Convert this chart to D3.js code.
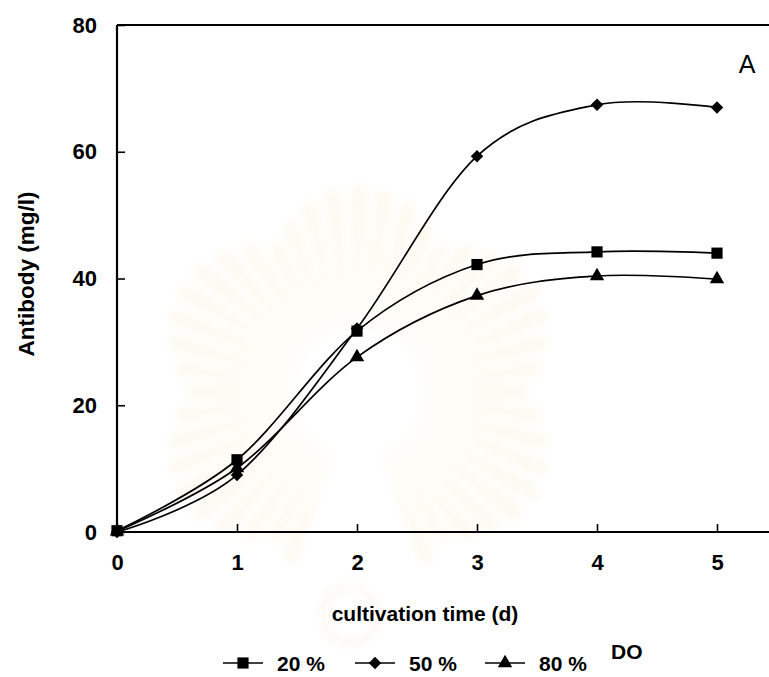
<!DOCTYPE html>
<html>
<head>
<meta charset="utf-8">
<script src="https://cdn.jsdelivr.net/npm/d3@7"></script>
<style>
  html, body { margin: 0; padding: 0; background: #fff; }
  svg { display: block; }
  text { font-family: "Liberation Sans", Arial, sans-serif; fill: #000; }
</style>
</head>
<body>
<svg id="chart" width="769" height="677"></svg>
<script>
// Antibody titre over cultivation time at three dissolved-oxygen levels
const days = [0, 1, 2, 3, 4, 5];
const do20 = [0.2, 11.4, 31.7, 42.2, 44.2, 44.0];
const do50 = [0.0, 9.0, 32.1, 59.3, 67.4, 67.0];
const do80 = [0.1, 10.1, 27.6, 37.3, 40.4, 39.9];
const seriesNames = ["20 %", "50 %", "80 %"];
const seriesMarkers = ["square", "diamond", "triangle"];
const xTicks = [0, 1, 2, 3, 4, 5];
const yTicks = [0, 20, 40, 60, 80];

const svg = d3.select("#chart");
const W = 769;
const FONT = "'Liberation Sans', Arial, sans-serif";
const x = d3.scaleLinear().domain([0, 5]).range([117, 717]);
const y = d3.scaleLinear().domain([0, 80]).range([532, 25]);

// faint emblem rays in the background
const defs = svg.append("defs");
defs.append("filter").attr("id", "soft")
  .append("feGaussianBlur").attr("stdDeviation", 5);
const wm = svg.append("g").attr("filter", "url(#soft)");
const cx = 358, cy = 392;
const nRays = 48;
for (let i = 0; i < nRays; i++) {
  const a = (i / nRays) * 2 * Math.PI;
  const deg = a * 180 / Math.PI;
  if (deg > 70 && deg < 110) continue; // lower part left open
  const r0 = 62, r1 = 165 + 35 * Math.abs(Math.sin(a * 3));
  const w0 = 0.02, w1 = 0.045;
  const p = [
    [cx + r0 * Math.cos(a - w0), cy + r0 * Math.sin(a - w0)],
    [cx + r1 * Math.cos(a - w1), cy + r1 * Math.sin(a - w1)],
    [cx + (r1 + 10) * Math.cos(a), cy + (r1 + 10) * Math.sin(a)],
    [cx + r1 * Math.cos(a + w1), cy + r1 * Math.sin(a + w1)],
    [cx + r0 * Math.cos(a + w0), cy + r0 * Math.sin(a + w0)]
  ];
  wm.append("path").attr("d", d3.line().curve(d3.curveLinearClosed)(p))
    .attr("fill", "#fcfaf0");
}
wm.append("circle").attr("cx", 350).attr("cy", 615).attr("r", 28)
  .attr("fill", "none").attr("stroke", "#faf8ee").attr("stroke-width", 6);

// frame line along the top
svg.append("line").attr("x1", x(0)).attr("x2", W).attr("y1", y(80)).attr("y2", y(80))
  .attr("stroke", "#000").attr("stroke-width", 2);

// axes
const xAxis = d3.axisBottom(x).tickValues(xTicks).tickSize(-8).tickPadding(22)
  .tickFormat(d3.format("d"));
const gx = svg.append("g").attr("transform", `translate(0,${y(0)})`).call(xAxis);
gx.select(".domain").remove();
gx.append("line").attr("x1", x(0)).attr("x2", W).attr("y1", 0).attr("y2", 0)
  .attr("stroke", "#000").attr("stroke-width", 2.2);
gx.selectAll(".tick line").attr("stroke", "#000").attr("stroke-width", 1.6);
gx.selectAll(".tick text").attr("font-size", 22).attr("font-weight", "bold")
  .attr("font-family", FONT).attr("fill", "#000");

const yAxis = d3.axisLeft(y).tickValues(yTicks).tickSize(-8).tickPadding(20)
  .tickFormat(d3.format("d"));
const gy = svg.append("g").attr("transform", `translate(${x(0)},0)`).call(yAxis);
gy.select(".domain").remove();
gy.append("line").attr("x1", 0).attr("x2", 0).attr("y1", y(80)).attr("y2", y(0))
  .attr("stroke", "#000").attr("stroke-width", 2.2);
gy.selectAll(".tick line").attr("stroke", "#000").attr("stroke-width", 1.6);
gy.selectAll(".tick text").attr("font-size", 22).attr("font-weight", "bold")
  .attr("font-family", FONT).attr("fill", "#000");

// titles
svg.append("text").attr("x", 425).attr("y", 621).attr("text-anchor", "middle")
  .attr("font-size", 21).attr("font-weight", "bold").text("cultivation time (d)");
svg.append("text").attr("transform", "translate(34,274) rotate(-90)")
  .attr("text-anchor", "middle").attr("font-size", 22.5).attr("font-weight", "bold")
  .text("Antibody (mg/l)");
svg.append("text").attr("x", 747).attr("y", 73).attr("text-anchor", "middle")
  .attr("font-size", 25).text("A");

// markers
const sym = {
  square: d3.symbol().type(d3.symbolSquare).size(125),
  diamond: d3.symbol().type(d3.symbolDiamond2).size(100),
  triangle: d3.symbol().type(d3.symbolTriangle).size(90)
};

const series = [do20, do50, do80];
const line = d3.line().x((d, i) => x(days[i])).y(d => y(d))
  .curve(d3.curveCardinal.tension(0));

series.forEach(vals => {
  svg.append("path").datum(vals).attr("d", line)
    .attr("fill", "none").attr("stroke", "#000").attr("stroke-width", 1.7);
});
series.forEach((vals, k) => {
  svg.append("g").selectAll("path").data(vals).join("path")
    .attr("transform", (d, i) => `translate(${x(days[i])},${y(d)})`)
    .attr("d", sym[seriesMarkers[k]]).attr("fill", "#000");
});

// legend
const legendX = [223, 355, 485];
const legendY = 663;
seriesNames.forEach((name, k) => {
  const g = svg.append("g").attr("transform", `translate(${legendX[k]},${legendY})`);
  g.append("line").attr("x1", 0).attr("x2", 40).attr("y1", 0).attr("y2", 0)
    .attr("stroke", "#000").attr("stroke-width", 1.7);
  g.append("path").attr("transform", "translate(20,0)")
    .attr("d", sym[seriesMarkers[k]]).attr("fill", "#000");
  g.append("text").attr("x", 54).attr("y", 8).attr("font-size", 21)
    .attr("font-weight", "bold").text(name);
});
svg.append("text").attr("x", 611).attr("y", 659).attr("font-size", 21)
  .attr("font-weight", "bold").text("DO");
</script>
</body>
</html>
